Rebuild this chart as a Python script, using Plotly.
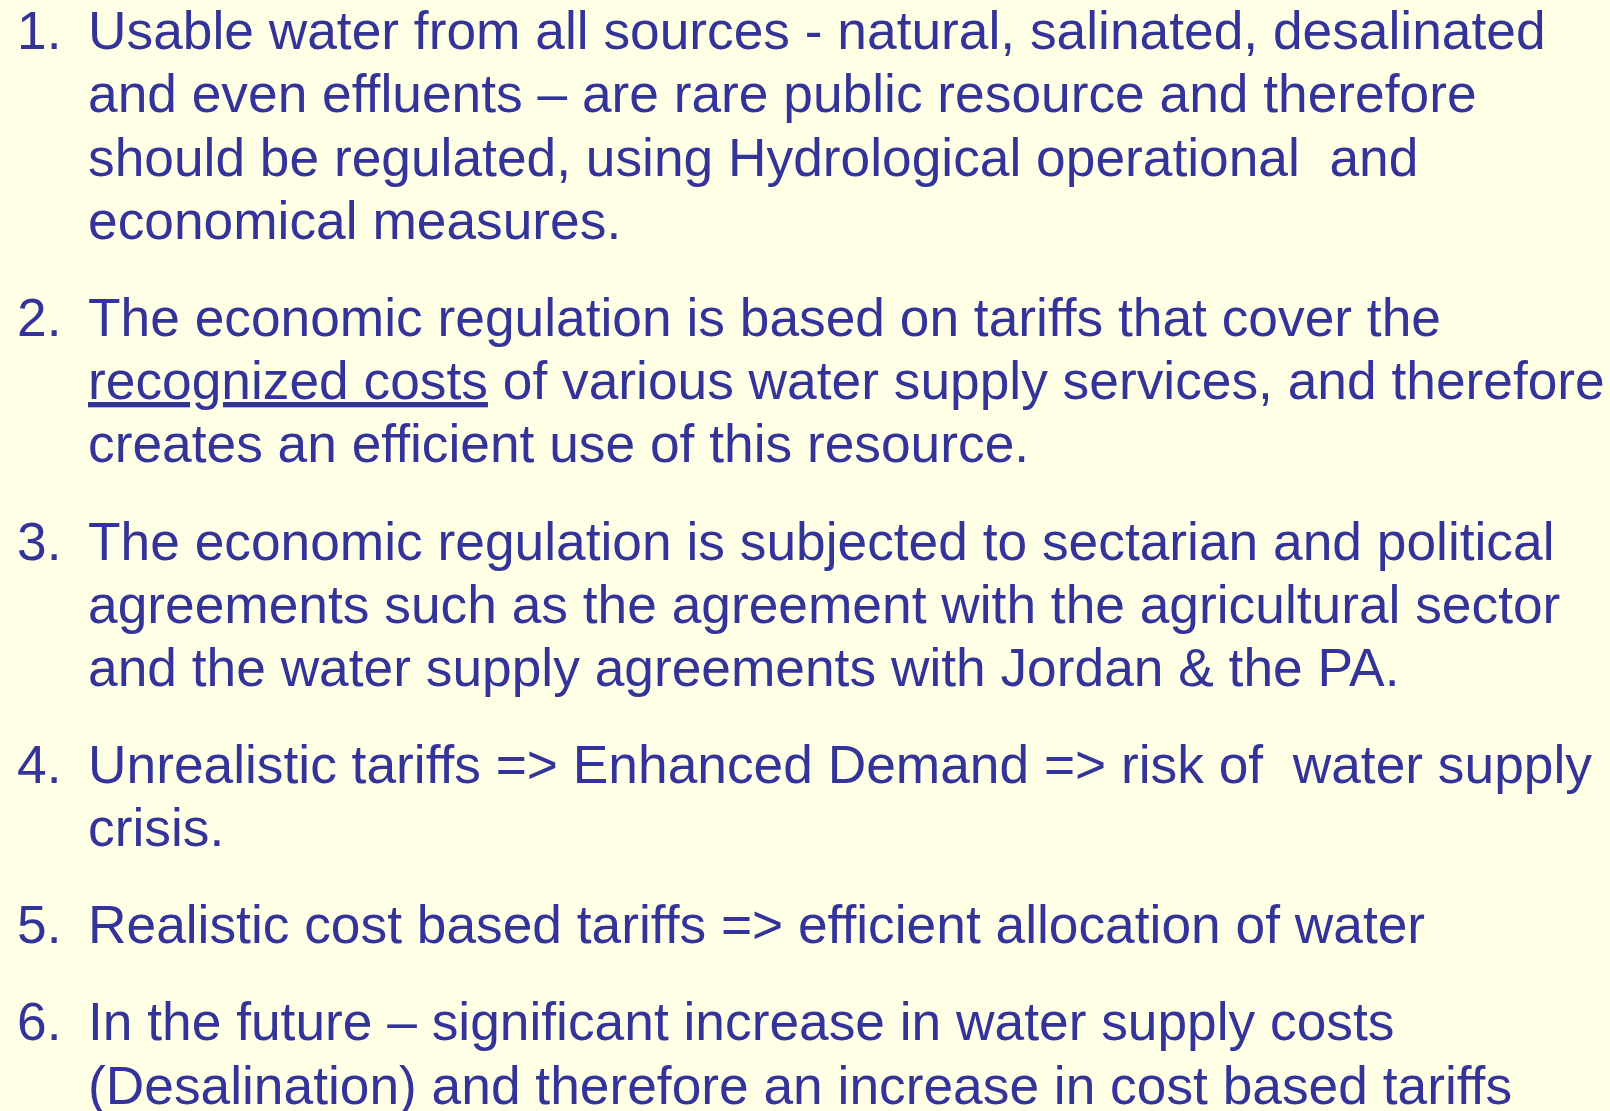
import plotly.graph_objects as go

# ---- content ----
item_numbers = ["1.", "2.", "3.", "4.", "5.", "6."]
item1_lines = [
    "Usable water from all sources - natural, salinated, desalinated",
    "and even effluents \u2013 are rare public resource and therefore",
    "should be regulated, using Hydrological operational &nbsp;and",
    "economical measures.",
]
item2_lines = [
    "The economic regulation is based on tariffs that cover the",
    "<u>recognized costs</u> of various water supply services, and therefore",
    "creates an efficient use of this resource.",
]
item3_lines = [
    "The economic regulation is subjected to sectarian and political",
    "agreements such as the agreement with the agricultural sector",
    "and the water supply agreements with Jordan &amp; the PA.",
]
item4_lines = [
    "Unrealistic tariffs =&gt; Enhanced Demand =&gt; risk of &nbsp;water supply",
    "crisis.",
]
item5_lines = [
    "Realistic cost based tariffs =&gt; efficient allocation of water",
]
item6_lines = [
    "In the future \u2013 significant increase in water supply costs",
    "(Desalination) and therefore an increase in cost based tariffs",
]
items = [item1_lines, item2_lines, item3_lines, item4_lines, item5_lines, item6_lines]

# ---- layout parameters ----
W, H = 1610, 1111
BG = "#FFFFE6"
TXT = "#333399"
FONT = "Liberation Sans, Arial, sans-serif"
FS = 53.3
first_baseline = 49
line_step = 63.3
item_gap = 97
num_x = 15
text_x = 86
baseline_to_bottom = 13  # offset from baseline to annotation box bottom


def px(xp):
    return xp / W


def py(yp):
    return 1 - yp / H


fig = go.Figure()
annotations = []
y = first_baseline
for num, lines in zip(item_numbers, items):
    annotations.append(dict(
        x=px(num_x), y=py(y + baseline_to_bottom), xref="paper", yref="paper",
        text=num, showarrow=False, xanchor="left", yanchor="bottom",
        font=dict(family=FONT, size=FS, color=TXT), align="left",
    ))
    for i, line in enumerate(lines):
        annotations.append(dict(
            x=px(text_x), y=py(y + baseline_to_bottom), xref="paper", yref="paper",
            text=line, showarrow=False, xanchor="left", yanchor="bottom",
            font=dict(family=FONT, size=FS, color=TXT), align="left",
        ))
        if i < len(lines) - 1:
            y += line_step
    y += item_gap

fig.update_layout(
    width=W, height=H,
    margin=dict(l=0, r=0, t=0, b=0),
    paper_bgcolor=BG, plot_bgcolor=BG,
    xaxis=dict(range=[0, W], visible=False, fixedrange=True),
    yaxis=dict(range=[H, 0], visible=False, fixedrange=True),
    annotations=annotations,
    showlegend=False,
)
fig.write_html(
    "out.html",
    config={"displayModeBar": False},
    post_script="document.body.style.margin='0';document.body.style.background='%s';" % BG,
)
